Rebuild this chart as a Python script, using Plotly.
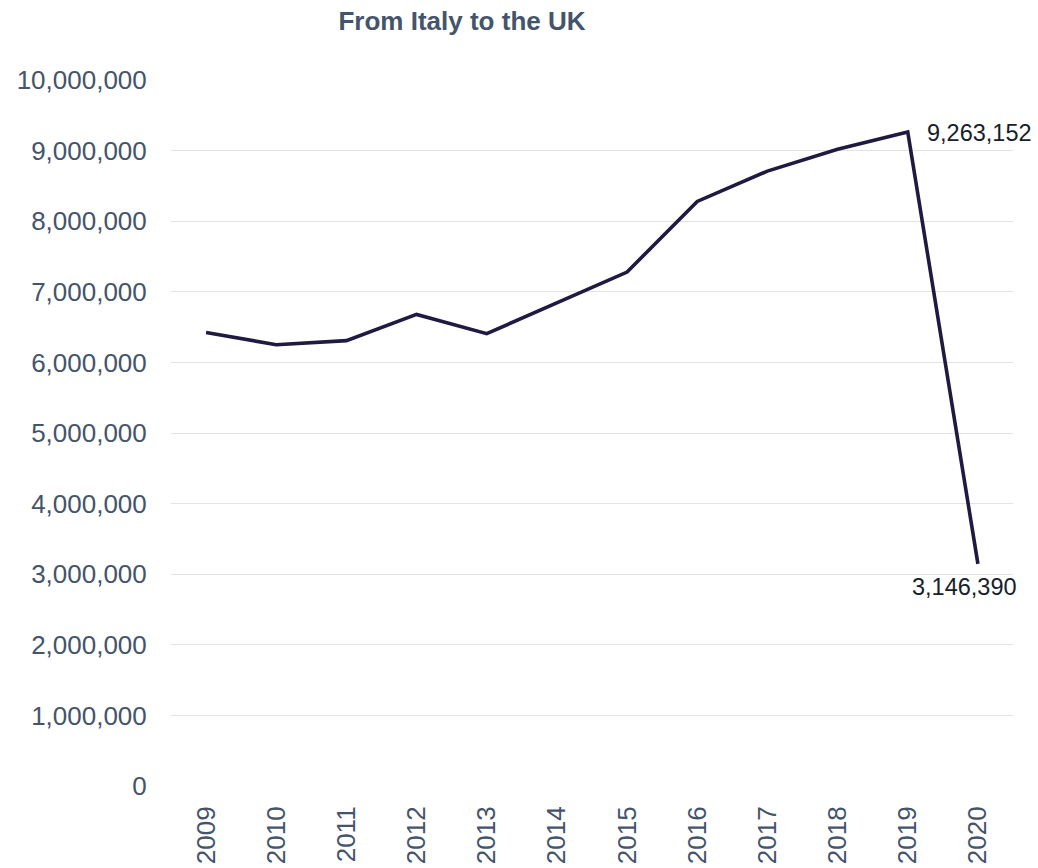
import plotly.graph_objects as go

years = ["2009", "2010", "2011", "2012", "2013", "2014", "2015", "2016", "2017", "2018", "2019", "2020"]
passengers = [6425000, 6250000, 6308000, 6680000, 6407000, 6840000, 7280000, 8280000, 8710000, 9020000, 9263152, 3146390]
title_text = "From Italy to the UK"

axis_color = "#44546a"
font_family = "Liberation Sans, Arial, sans-serif"

fig = go.Figure()
fig.add_trace(go.Scatter(
    x=years, y=passengers, mode="lines",
    line=dict(color="#1f1a3f", width=3.6),
    hoverinfo="x+y", showlegend=False,
))

i_peak = years.index("2019")
i_last = years.index("2020")
fig.add_annotation(x=i_peak, y=passengers[i_peak], xref="x", yref="y", text=f"{passengers[i_peak]:,}",
                   showarrow=False, xanchor="left", yanchor="middle", xshift=17, yshift=-1,
                   font=dict(size=23.5, color="#16202a", family=font_family))
fig.add_annotation(x=i_last, y=passengers[i_last], xref="x", yref="y", text=f"{passengers[i_last]:,}",
                   showarrow=False, xanchor="center", yanchor="top", xshift=-13, yshift=-8,
                   font=dict(size=23.5, color="#16202a", family=font_family))

fig.update_layout(
    width=1038, height=868,
    margin=dict(l=171, r=25, t=80, b=82, autoexpand=False),
    paper_bgcolor="white", plot_bgcolor="white",
    font=dict(family=font_family, color=axis_color),
    title=dict(text=f"<b>{title_text}</b>", x=462 / 1038, xanchor="center", xref="container",
               y=1 - 21 / 868, yanchor="middle", yref="container",
               font=dict(size=26, color=axis_color, family=font_family)),
)

fig.update_xaxes(type="category", range=[-0.5, 11.5], showgrid=False, zeroline=False,
                 showline=False, tickangle=-90, ticks="outside", ticklen=9, tickcolor="rgba(0,0,0,0)",
                 tickfont=dict(size=26, color=axis_color, family=font_family), automargin=False)
fig.update_yaxes(range=[0, 10000000], dtick=1000000, tickformat=",d",
                 showgrid=True, gridcolor="#e3e3e3", gridwidth=1,
                 zeroline=False, showline=False, ticks="outside", ticklen=18, tickcolor="rgba(0,0,0,0)",
                 tickfont=dict(size=26, color=axis_color, family=font_family), automargin=False)

fig.write_html("out.html", config={"displayModeBar": False},
               post_script="document.body.style.margin='0';")
